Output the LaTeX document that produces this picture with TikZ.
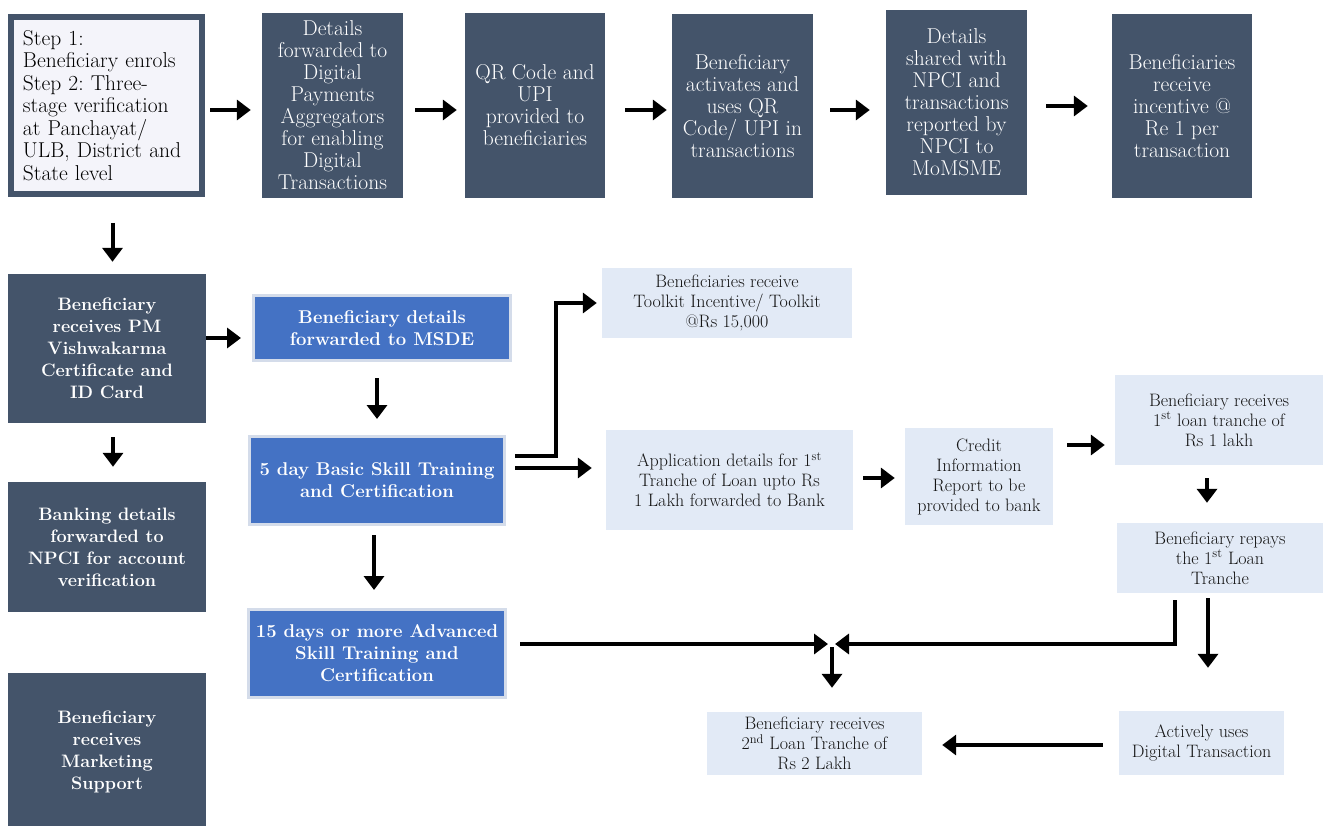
\documentclass[tikz,border=0pt]{standalone}
\usetikzlibrary{arrows.meta,calc}
\definecolor{slate}{RGB}{68,84,106}
\definecolor{accent}{RGB}{68,114,196}
\definecolor{pale}{RGB}{226,234,246}
\definecolor{glow}{RGB}{212,220,234}
\definecolor{boxone}{RGB}{244,244,250}
\definecolor{txtdark}{RGB}{20,20,20}
\frenchspacing
\begin{document}
\begin{tikzpicture}[x=1pt,y=-1pt,
  darkbox/.style={fill=slate, text=white, inner sep=2pt, align=center, font=\fontsize{21.5}{22}\selectfont},
  boldbox/.style={darkbox, font=\fontsize{18}{22}\selectfont\bfseries},
  bluebox/.style={fill=accent, draw=glow, line width=3pt, text=white, inner sep=2pt, align=center, font=\fontsize{18.5}{22}\selectfont\bfseries},
  palebox/.style={fill=pale, text=txtdark, inner sep=2pt, align=center, font=\fontsize{18}{20}\selectfont},
  arr/.style={line width=4pt, -{Triangle[length=14pt,width=20pt]}},
]
\useasboundingbox[fill=white] (0,0) rectangle (1324,826);

% top row
\node[fill=boxone, draw=slate, line width=6pt, minimum width=191pt, minimum height=177pt,
      text width=167pt, inner xsep=12pt, align=left, text=black,
      font=\fontsize{21.5}{22.5}\selectfont] (b1) at (106.5,105.5)
  {Step 1:\\ Beneficiary enrols\\ Step 2: Three-\\ stage verification\\ at Panchayat/\\ ULB, District and\\ State level};
\node[darkbox, minimum width=141pt, minimum height=185pt] (b2) at (332.5,105.5)
  {Details\\ forwarded to\\ Digital\\ Payments\\ Aggregators\\ for enabling\\ Digital\\ Transactions};
\node[darkbox, minimum width=140pt, minimum height=185pt] (b3) at (535,105.5)
  {QR Code and\\ UPI\\ provided to\\ beneficiaries};
\node[darkbox, minimum width=141pt, minimum height=184pt] (b4) at (742.5,106)
  {Beneficiary\\ activates and\\ uses QR\\ Code/ UPI in\\ transactions};
\node[darkbox, minimum width=141pt, minimum height=185pt] (b5) at (956.5,102.5)
  {Details\\ shared with\\ NPCI and\\ transactions\\ reported by\\ NPCI to\\ MoMSME};
\node[darkbox, minimum width=140pt, minimum height=184pt] (b6) at (1182,106)
  {Beneficiaries\\ receive\\ incentive @\\ Re 1 per\\ transaction};

% left column
\node[boldbox, minimum width=198pt, minimum height=149pt] (b7) at (107,348.5)
  {Beneficiary\\ receives PM\\ Vishwakarma\\ Certificate and\\ ID Card};
\node[boldbox, minimum width=198pt, minimum height=130pt] (b10) at (107,547)
  {Banking details\\ forwarded to\\ NPCI for account\\ verification};
\node[boldbox, minimum width=198pt, minimum height=157pt] (b11) at (107,751.5)
  {Beneficiary\\ receives\\ Marketing\\ Support};

% blue column
\node[bluebox, minimum width=257pt, minimum height=65pt] (b8) at (382,328)
  {Beneficiary details\\ forwarded to MSDE};
\node[bluebox, minimum width=255pt, minimum height=88pt] (b9) at (377,480.5)
  {5 day Basic Skill Training\\ and Certification};
\node[bluebox, minimum width=257pt, minimum height=88pt] (b12) at (377,653.5)
  {15 days or more Advanced\\ Skill Training and\\ Certification};

% pale boxes
\node[palebox, minimum width=250pt, minimum height=70pt] (b13) at (727,303)
  {Beneficiaries receive\\ Toolkit Incentive/ Toolkit\\ @Rs 15,000};
\node[palebox, minimum width=247pt, minimum height=100pt] (b14) at (729.5,480)
  {Application details for 1\textsuperscript{st}\\ Tranche of Loan upto Rs\\ 1 Lakh forwarded to Bank};
\node[palebox, minimum width=148pt, minimum height=97pt] (b15) at (979,476.5)
  {Credit\\ Information\\ Report to be\\ provided to bank};
\node[palebox, minimum width=208pt, minimum height=90pt] (b16) at (1219,420)
  {Beneficiary receives\\ 1\textsuperscript{st} loan tranche of\\ Rs 1 lakh};
\node[palebox, minimum width=206pt, minimum height=70pt] (b17) at (1220,558)
  {Beneficiary repays\\ the 1\textsuperscript{st} Loan\\ Tranche};
\node[palebox, minimum width=215pt, minimum height=63pt] (b18) at (814.5,743.5)
  {Beneficiary receives\\ 2\textsuperscript{nd} Loan Tranche of\\ Rs 2 Lakh};
\node[palebox, minimum width=165pt, minimum height=64pt] (b19) at (1201.5,743)
  {Actively uses\\ Digital Transaction};

\coordinate (J) at (832,644);

% top row arrows
\draw[arr, shorten <=5pt, shorten >=11pt] ([yshift=-4.5pt]b1.east) -- ([yshift=-4.5pt]b1.east -| b2.west);
\draw[arr, shorten <=12pt, shorten >=8pt] ([yshift=-4.5pt]b2.east) -- ([yshift=-4.5pt]b2.east -| b3.west);
\draw[arr, shorten <=20pt, shorten >=5pt] ([yshift=-4.5pt]b3.east) -- ([yshift=-4.5pt]b3.east -| b4.west);
\draw[arr, shorten <=17pt, shorten >=16pt] ([yshift=-4pt]b4.east) -- ([yshift=-4pt]b4.east -| b5.west);
\draw[arr, shorten <=19pt, shorten >=24pt] ([yshift=-3.5pt]b5.east) -- ([yshift=-3.5pt]b5.east -| b6.west);

% left column arrows
\draw[arr, shorten <=26pt, shorten >=12pt] ([xshift=6pt]b1.south) -- ([xshift=6pt]b1.south |- b7.north);
\draw[arr, shorten <=14pt, shorten >=15pt] ([xshift=6pt]b7.south) -- ([xshift=6pt]b7.south |- b10.north);
\draw[arr, shorten <=0pt, shorten >=11pt] ([yshift=10.5pt]b7.east) -- ([yshift=10.5pt]b7.east -| b8.west);

% blue column arrows
\draw[arr, shorten <=16pt, shorten >=16pt] (b9.north |- b8.south) -- (b9.north);
\draw[arr, shorten <=9pt, shorten >=18pt] ([xshift=-3pt]b9.south) -- ([xshift=-3pt]b9.south |- b12.north);
\draw[arr, shorten <=9pt, shorten >=5pt] ([yshift=24.5pt]b9.east) -- ++(50,0) |- (b13.west);
\draw[arr, shorten <=9pt, shorten >=14pt] ([yshift=12.5pt]b9.east) -- ([yshift=12.5pt]b9.east -| b14.west);

% loan chain
\draw[arr, shorten <=10pt, shorten >=10pt] ([yshift=2pt]b14.east) -- ([yshift=2pt]b14.east -| b15.west);
\draw[arr, shorten <=14pt, shorten >=10pt] ([yshift=31.5pt]b15.east) -- ([yshift=31.5pt]b15.east -| b16.west);
\draw[arr, shorten <=13pt, shorten >=20pt] ([xshift=-12pt]b16.south) -- ([xshift=-12pt]b16.south |- b17.north);
\draw[arr, shorten <=5pt, shorten >=43pt] ([xshift=-12pt]b17.south) -- ([xshift=-12pt]b17.south |- b19.north);
\draw[arr, shorten <=16pt, shorten >=20pt] ([yshift=-2pt]b19.west) -- ([yshift=-2pt]b19.west -| b18.east);

% junction
\draw[arr, shorten <=13pt, shorten >=4pt] (b12.east |- J) -- (J);
\draw[arr, shorten <=7pt, shorten >=3pt] ([xshift=-45pt]b17.south) |- (J);
\draw[arr, shorten <=3pt, shorten >=24pt] (J) -- (J |- b18.north);
\end{tikzpicture}
\end{document}
